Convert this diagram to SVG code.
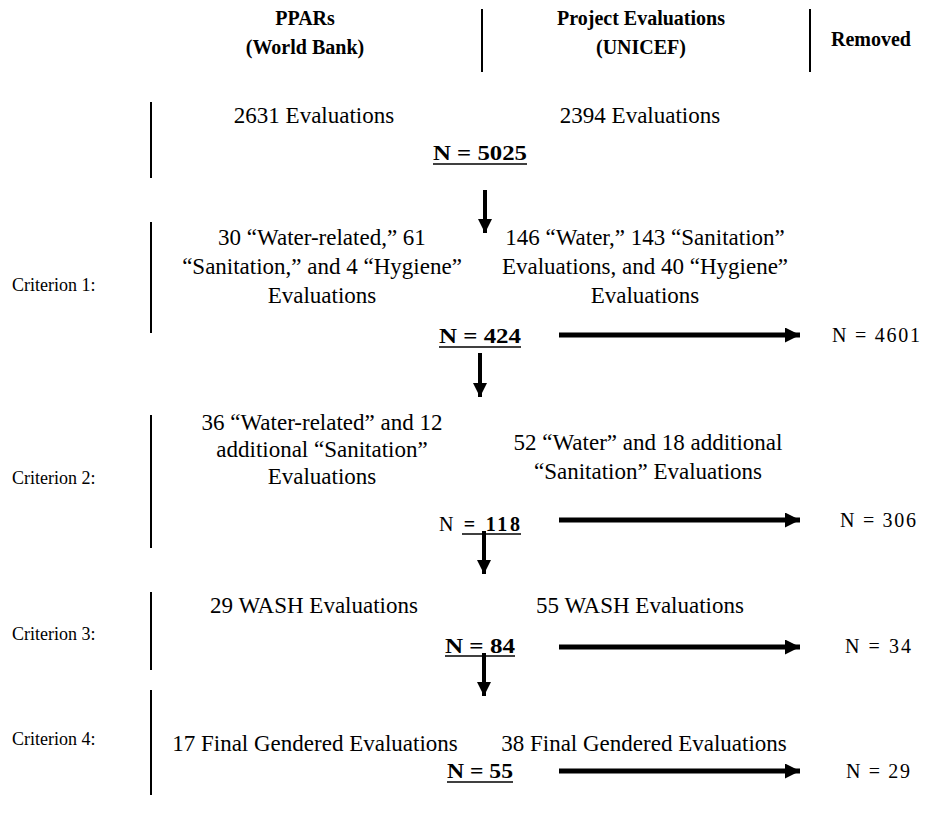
<svg xmlns="http://www.w3.org/2000/svg" width="926" height="823" viewBox="0 0 926 823">
<style>
text{font-family:"Liberation Serif","Times New Roman",serif;font-size:23px;fill:#000}
.h{font-weight:bold;font-size:20px}
.c{text-anchor:middle}
.b{font-weight:bold}
.n{font-size:20px}
.cr{font-size:18px}
.sep{stroke:#000;stroke-width:2}
.ul{stroke:#000;stroke-width:1.5}
.arr{stroke:#000;fill:none}
</style>
<defs>
<marker id="ah" viewBox="0 0 10 10" refX="10" refY="5" markerWidth="3" markerHeight="3" orient="auto" markerUnits="strokeWidth"><path d="M0,0L10,5L0,10z" fill="#000"/></marker>
<marker id="ahv" viewBox="0 0 10 10" refX="10" refY="5" markerWidth="3.5" markerHeight="3.5" orient="auto" markerUnits="strokeWidth"><path d="M0,0L10,5L0,10z" fill="#000"/></marker>
</defs>
<g id="header">
<text class="h c" x="305" y="25">PPARs</text>
<text class="h c" x="305" y="54">(World Bank)</text>
<line class="sep" x1="482" y1="9" x2="482" y2="72"/>
<text class="h c" x="641" y="25">Project Evaluations</text>
<text class="h c" x="641" y="54">(UNICEF)</text>
<line class="sep" x1="810" y1="9" x2="810" y2="72"/>
<text class="h c" x="871" y="46">Removed</text>
</g>
<g id="stage0">
<line class="sep" x1="151" y1="102" x2="151" y2="178"/>
<text class="c" x="314" y="123">2631 Evaluations</text>
<text class="c" x="640" y="123">2394 Evaluations</text>
<text class="b n" x="433" y="160" textLength="94" lengthAdjust="spacingAndGlyphs">N = 5025</text>
<line class="ul" x1="433" y1="164" x2="527" y2="164"/>
</g>
<g id="stage1">
<text class="cr" x="12" y="291">Criterion 1:</text>
<line class="sep" x1="151" y1="222" x2="151" y2="333"/>
<text class="c" x="322" y="245">30 “Water-related,” 61</text>
<text class="c" x="322" y="274">“Sanitation,” and 4 “Hygiene”</text>
<text class="c" x="322" y="303">Evaluations</text>
<text class="c" x="645" y="245">146 “Water,” 143 “Sanitation”</text>
<text class="c" x="645" y="274">Evaluations, and 40 “Hygiene”</text>
<text class="c" x="645" y="303">Evaluations</text>
<text class="b n" x="439" y="343" textLength="82" lengthAdjust="spacingAndGlyphs">N = 424</text>
<line class="ul" x1="439" y1="347" x2="521" y2="347"/>
<text class="n" x="832" y="342" textLength="88" lengthAdjust="spacing">N = 4601</text>
</g>
<g id="stage2">
<text class="cr" x="12" y="484">Criterion 2:</text>
<line class="sep" x1="151" y1="415" x2="151" y2="548"/>
<text class="c" x="322" y="430">36 “Water-related” and 12</text>
<text class="c" x="322" y="457">additional “Sanitation”</text>
<text class="c" x="322" y="484">Evaluations</text>
<text class="c" x="648" y="450">52 “Water” and 18 additional</text>
<text class="c" x="648" y="479">“Sanitation” Evaluations</text>
<text class="n" x="439" y="531" textLength="81" lengthAdjust="spacing">N <tspan class="b">= 118</tspan></text>
<line class="ul" x1="462" y1="534" x2="521" y2="534"/>
<text class="n" x="840" y="527" textLength="76" lengthAdjust="spacing">N = 306</text>
</g>
<g id="stage3">
<text class="cr" x="12" y="640">Criterion 3:</text>
<line class="sep" x1="151" y1="592" x2="151" y2="670"/>
<text class="c" x="314" y="613">29 WASH Evaluations</text>
<text class="c" x="640" y="613">55 WASH Evaluations</text>
<text class="b n" x="445" y="653" textLength="70" lengthAdjust="spacingAndGlyphs">N = 84</text>
<line class="ul" x1="445" y1="656" x2="515" y2="656"/>
<text class="n" x="845" y="653" textLength="66" lengthAdjust="spacing">N = 34</text>
</g>
<g id="stage4">
<text class="cr" x="12" y="745">Criterion 4:</text>
<line class="sep" x1="151" y1="690" x2="151" y2="795"/>
<text class="c" x="315" y="751">17 Final Gendered Evaluations</text>
<text class="c" x="644" y="751">38 Final Gendered Evaluations</text>
<text class="b n" x="447" y="778" textLength="66" lengthAdjust="spacingAndGlyphs">N = 55</text>
<line class="ul" x1="447" y1="782" x2="513" y2="782"/>
<text class="n" x="846" y="778" textLength="64" lengthAdjust="spacing">N = 29</text>
</g>
<g id="connectors">
<line class="arr" x1="485" y1="190" x2="485" y2="233" stroke-width="4" marker-end="url(#ahv)"/>
<line class="arr" x1="480" y1="353" x2="480" y2="397" stroke-width="4" marker-end="url(#ahv)"/>
<line class="arr" x1="484" y1="531" x2="484" y2="574" stroke-width="4" marker-end="url(#ahv)"/>
<line class="arr" x1="484" y1="653" x2="484" y2="696" stroke-width="4" marker-end="url(#ahv)"/>
<line class="arr" x1="559" y1="335" x2="800" y2="335" stroke-width="5" marker-end="url(#ah)"/>
<line class="arr" x1="559" y1="520" x2="800" y2="520" stroke-width="5" marker-end="url(#ah)"/>
<line class="arr" x1="559" y1="647" x2="800" y2="647" stroke-width="5" marker-end="url(#ah)"/>
<line class="arr" x1="559" y1="771" x2="800" y2="771" stroke-width="5" marker-end="url(#ah)"/>
</g>
</svg>
